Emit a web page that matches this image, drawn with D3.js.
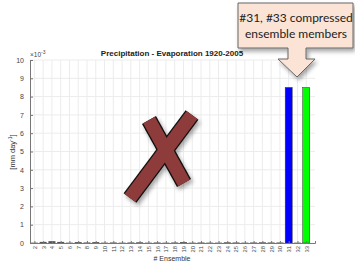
<!DOCTYPE html>
<html>
<head>
<meta charset="utf-8">
<script src="https://cdn.jsdelivr.net/npm/d3@7"></script>
<style>
  body { margin: 0; background: #fff; }
  svg { display: block; font-family: "Liberation Sans", Arial, sans-serif; }
</style>
</head>
<body>
<div id="chart"></div>
<script>
// ensemble members 2..33, values in 1e-3 mm/day
var members = d3.range(2, 34);
var values = [0.02, 0.06, 0.1, 0.06, 0.02, 0.05, 0.03, 0.05, 0.02, 0.03, 0.02, 0.03,
  0.04, 0.02, 0.03, 0.02, 0.03, 0.05, 0.02, 0.03, 0.02, 0.02, 0.04, 0.03,
  0.02, 0.03, 0.04, 0.03, 0.03, 8.5, 0.02, 8.5];
var barColors = {31: "#0000ff", 33: "#00ff00"};
var yTicks = [0, 1, 2, 3, 4, 5, 6, 7, 8, 9, 10];

var width = 355, height = 262;
var mLeft = 30, mRight = 315, mTop = 60, mBottom = 243;

var svg = d3.select("#chart").append("svg")
  .attr("width", width)
  .attr("height", height);

var defs = svg.append("defs");
var f = defs.append("filter").attr("id", "shadow")
  .attr("x", "-20%").attr("y", "-20%").attr("width", "150%").attr("height", "150%");
f.append("feDropShadow").attr("dx", 2).attr("dy", 3).attr("stdDeviation", 2)
  .attr("flood-color", "#000").attr("flood-opacity", 0.35);

var x = d3.scaleLinear().domain([1.5, 34]).range([mLeft, mRight]);
var y = d3.scaleLinear().domain([0, 10]).range([mBottom, mTop]);

// grid
svg.append("g").selectAll("line")
  .data(members)
  .enter().append("line")
  .attr("x1", d => x(d)).attr("x2", d => x(d))
  .attr("y1", mTop).attr("y2", mBottom)
  .attr("stroke", "#ececec").attr("stroke-width", 1);
svg.append("g").selectAll("line")
  .data(yTicks.slice(1))
  .enter().append("line")
  .attr("x1", mLeft).attr("x2", mRight)
  .attr("y1", d => y(d)).attr("y2", d => y(d))
  .attr("stroke", "#ececec").attr("stroke-width", 1);

// bars
var bw = x(0.8) - x(0);
svg.append("g").selectAll("rect")
  .data(members)
  .enter().append("rect")
  .attr("x", (d, i) => x(d) - bw / 2)
  .attr("y", (d, i) => y(values[i]))
  .attr("width", bw)
  .attr("height", (d, i) => mBottom - y(values[i]))
  .attr("fill", d => barColors[d] || "#555")
  .attr("stroke", d => barColors[d] ? "#333" : "none")
  .attr("stroke-width", 0.5);

// axes
var yAxis = svg.append("g")
  .attr("transform", "translate(" + mLeft + ",0)")
  .call(d3.axisLeft(y).tickValues(yTicks).tickSize(-3).tickPadding(6));
var xAxis = svg.append("g")
  .attr("transform", "translate(0," + mBottom + ")")
  .call(d3.axisBottom(x).tickValues(members).tickSize(-2).tickPadding(3));
[yAxis, xAxis].forEach(function (g) {
  g.select(".domain").attr("stroke", "#777");
  g.selectAll(".tick line").attr("stroke", "#777");
  g.selectAll("text").attr("fill", "#444").style("font-size", "7px");
});
xAxis.selectAll("text")
  .attr("transform", "rotate(-90)")
  .attr("x", -3)
  .attr("y", 0)
  .attr("dy", "0.32em")
  .style("text-anchor", "end")
  .style("font-size", "5.8px");

// labels
svg.append("text")
  .attr("x", 172).attr("y", 56)
  .attr("text-anchor", "middle")
  .style("font-size", "8px").style("font-weight", "bold")
  .attr("fill", "#222")
  .text("Precipitation - Evaporation 1920-2005");

var mult = svg.append("text").attr("x", 30).attr("y", 57)
  .style("font-size", "6.5px").attr("fill", "#444");
mult.append("tspan").text("\u00d710");
mult.append("tspan").attr("dy", -3).style("font-size", "5px").text("-3");

var yl = svg.append("text")
  .attr("transform", "translate(15,152) rotate(-90)")
  .attr("text-anchor", "middle")
  .style("font-size", "7.5px").attr("fill", "#333");
yl.append("tspan").text("[mm day");
yl.append("tspan").attr("dy", -3).style("font-size", "5px").text("-1");
yl.append("tspan").attr("dy", 3).text("]");

svg.append("text")
  .attr("x", 172).attr("y", 261)
  .attr("text-anchor", "middle")
  .style("font-size", "7px").attr("fill", "#333")
  .text("# Ensemble");

// big X annotation
var xg = svg.append("g").attr("filter", "url(#shadow)");
var strokes = [
  [[192, 115], [130, 198]],
  [[149, 120], [184, 183]]
];
var line = d3.line();
xg.selectAll("path.o").data(strokes).enter().append("path")
  .attr("d", line).attr("stroke", "#111").attr("stroke-width", 16).attr("fill", "none");
xg.selectAll("path.i").data(strokes).enter().append("path")
  .attr("d", line).attr("stroke", "#8e3a3a").attr("stroke-width", 13.5).attr("fill", "none");

// callout
svg.append("path")
  .attr("d", "M238,3 H353 V48 H306 V59 H315 L297,77 L278,59 H288 V48 H238 Z")
  .attr("fill", "#fbe4d5").attr("stroke", "#666").attr("stroke-width", 1)
  .attr("filter", "url(#shadow)");
var ct = svg.append("text")
  .attr("text-anchor", "middle")
  .style("font-family", "Lato, 'Open Sans', sans-serif")
  .style("font-size", "12px").attr("fill", "#222");
ct.append("tspan").attr("x", 296).attr("y", 22).text("#31, #33 compressed");
ct.append("tspan").attr("x", 296).attr("y", 38).text("ensemble members");
</script>
</body>
</html>
